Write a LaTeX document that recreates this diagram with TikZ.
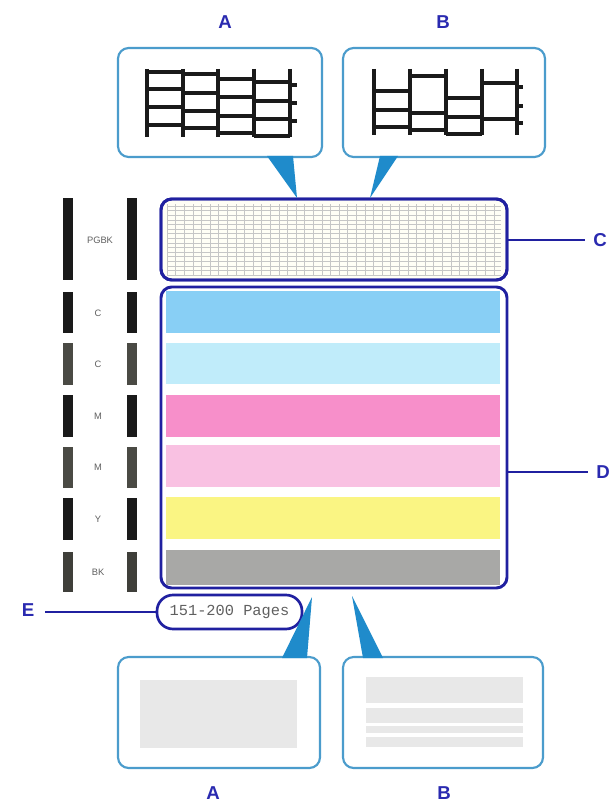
\documentclass[tikz,border=0pt]{standalone}
\usepackage{fontspec}
\setmainfont{Liberation Sans}
\newfontfamily\monofont{Liberation Mono}
\definecolor{boxblue}{HTML}{2020A0}
\definecolor{lblblue}{HTML}{2A2AB0}
\definecolor{callblue}{HTML}{4B9CCC}
\definecolor{ptrblue}{HTML}{1F8BCB}
\definecolor{cyanbar}{HTML}{88CFF5}
\definecolor{lcyanbar}{HTML}{C0ECFA}
\definecolor{magbar}{HTML}{F78FCA}
\definecolor{pinkbar}{HTML}{F9C1E2}
\definecolor{yelbar}{HTML}{FAF583}
\definecolor{greybar}{HTML}{A8A8A6}
\definecolor{inkblack}{HTML}{1A1A1A}
\definecolor{inkgrey}{HTML}{4A4A44}
\definecolor{paleband}{HTML}{E8E8E8}
\tikzset{
  lbl/.style={text=lblblue, font=\fontsize{14}{16}\selectfont\bfseries, inner sep=0pt},
  callout/.style={draw=callblue, line width=1.6pt, rounded corners=8pt, fill=white, inner sep=0pt},
  bluebox/.style={draw=boxblue, line width=2.2pt, rounded corners=8pt, inner sep=0pt},
  pen/.style={line width=2.3pt, inkblack},
  ptr/.style={fill=ptrblue},
  small/.style={font=\fontsize{7}{8}\selectfont, text=gray!75!black, inner sep=0pt},
  lead/.style={draw=boxblue, line width=1.6pt}
}
\begin{document}
\begin{tikzpicture}[x=0.75pt,y=-0.75pt]
\useasboundingbox (0,0) rectangle (612,806);
\fill[white] (0,0) rectangle (612,806);

% top labels
\node[lbl] (tA) at (225,22) {A};
\node[lbl] (tB) at (443,22) {B};

% top callout boxes
\node[callout, minimum width=0.75*204pt, minimum height=0.75*109pt] (boxA) at (220,102.5) {};
\node[callout, minimum width=0.75*202pt, minimum height=0.75*109pt] (boxB) at (444,102.5) {};

% pattern A
\foreach \x in {147,183,218,254,290} \draw[pen] (\x,69) -- (\x,137);
\foreach \y in {72,89,107,125} \draw[pen] (147,\y) -- (183,\y);
\foreach \y in {74,93,111,128} \draw[pen] (183,\y) -- (218,\y);
\foreach \y in {79,97,116,133} \draw[pen] (218,\y) -- (254,\y);
\foreach \y in {82,101,119,136} \draw[pen] (254,\y) -- (290,\y);
\foreach \y in {85,103,121} \draw[pen] (290,\y) -- (297,\y);

% pattern B
\foreach \x in {374,410,446,482,517} \draw[pen] (\x,69) -- (\x,135);
\foreach \y in {91,110,127} \draw[pen] (374,\y) -- (410,\y);
\foreach \y in {76,113,130} \draw[pen] (410,\y) -- (446,\y);
\foreach \y in {98,117,134} \draw[pen] (446,\y) -- (482,\y);
\foreach \y in {83,119} \draw[pen] (482,\y) -- (517,\y);
\foreach \y in {87,106,123} \draw[pen] (517,\y) -- (523,\y);

% C box with grid
\node[bluebox, fill=white!96!yellow, minimum width=0.75*346pt, minimum height=0.75*81pt] (cbox) at (334,239.5) {};
\begin{scope}
  \clip (167,204) rectangle (501,276);
  \foreach \i in {0,...,39} \draw[gray!45, line width=0.45pt] (167+\i*8.6,204) -- (167+\i*8.6,276);
  \foreach \j in {0,...,15} \draw[gray!45, line width=0.45pt] (167,206+\j*4.6) -- (501,206+\j*4.6);
\end{scope}
\node[bluebox, minimum width=0.75*346pt, minimum height=0.75*81pt] at (cbox.center) {};

% pointers top
\fill[ptr] (267,156) -- (293,156) -- (297,198) -- cycle;
\fill[ptr] (380,156) -- (398,156) -- (370,198) -- cycle;

% D box with colour bars
\node[bluebox, minimum width=0.75*346pt, minimum height=0.75*301pt] (dbox) at (334,437.5) {};
\fill[cyanbar] (166,291) rectangle (500,333);
\fill[lcyanbar] (166,343) rectangle (500,384);
\fill[magbar] (166,395) rectangle (500,437);
\fill[pinkbar] (166,445) rectangle (500,487);
\fill[yelbar] (166,497) rectangle (500,539);
\fill[greybar] (166,550) rectangle (500,585);

% left nozzle column
\fill[inkblack] (63,198) rectangle (73,280);
\fill[inkblack] (127,198) rectangle (137,280);
\node[small] (lPG) at (100,240) {PGBK};
\foreach \ya/\yb/\c in {292/333/inkblack, 343/385/inkgrey, 395/437/inkblack, 447/488/inkgrey, 498/540/inkblack, 552/592/inkgrey!85!black} {
  \fill[\c] (63,\ya) rectangle (73,\yb);
  \fill[\c] (127,\ya) rectangle (137,\yb);
}
\node[small] (lC1) at (98,313) {C};
\node[small] (lC2) at (98,364) {C};
\node[small] (lM1) at (98,416) {M};
\node[small] (lM2) at (98,467) {M};
\node[small] (lY) at (98,519) {Y};
\node[small] (lBK) at (98,572) {BK};

% side labels C, D
\node[lbl] (lC) at (600,240) {C};
\node[lbl] (lD) at (603,472) {D};
\draw[lead] (cbox.east |- lC.west) -- ([xshift=-6pt]lC.west);
\draw[lead] (dbox.east |- lD.west) -- ([xshift=-6pt]lD.west);

% E pill
\node[draw=boxblue, line width=2pt, rounded corners=12pt, minimum width=0.75*145pt, minimum height=0.75*34pt, inner sep=0pt,
      font=\monofont\fontsize{11.5}{12}\selectfont, text=gray!75!black] (pill) at (229.5,612) {151-200\ Pages};
\node[lbl] (lE) at (28,610) {E};
\draw[lead] ([xshift=8pt]lE.east |- pill.west) -- (pill.west);

% bottom callout boxes
\node[callout, minimum width=0.75*202pt, minimum height=0.75*111pt] (bA) at (219,712.5) {};
\node[callout, minimum width=0.75*200pt, minimum height=0.75*111pt] (bB) at (443,712.5) {};
\fill[paleband] (140,680) rectangle (297,748);
\fill[paleband] (366,677) rectangle (523,703);
\fill[paleband] (366,708) rectangle (523,723);
\fill[paleband] (366,726) rectangle (523,733);
\fill[paleband] (366,737) rectangle (523,747);

% pointers bottom
\fill[ptr] (282,658) -- (307,658) -- (312,597) -- cycle;
\fill[ptr] (363,658) -- (383,658) -- (352,596) -- cycle;

% bottom labels
\node[lbl] (bLA) at (213,793) {A};
\node[lbl] (bLB) at (444,793) {B};
\end{tikzpicture}
\end{document}
